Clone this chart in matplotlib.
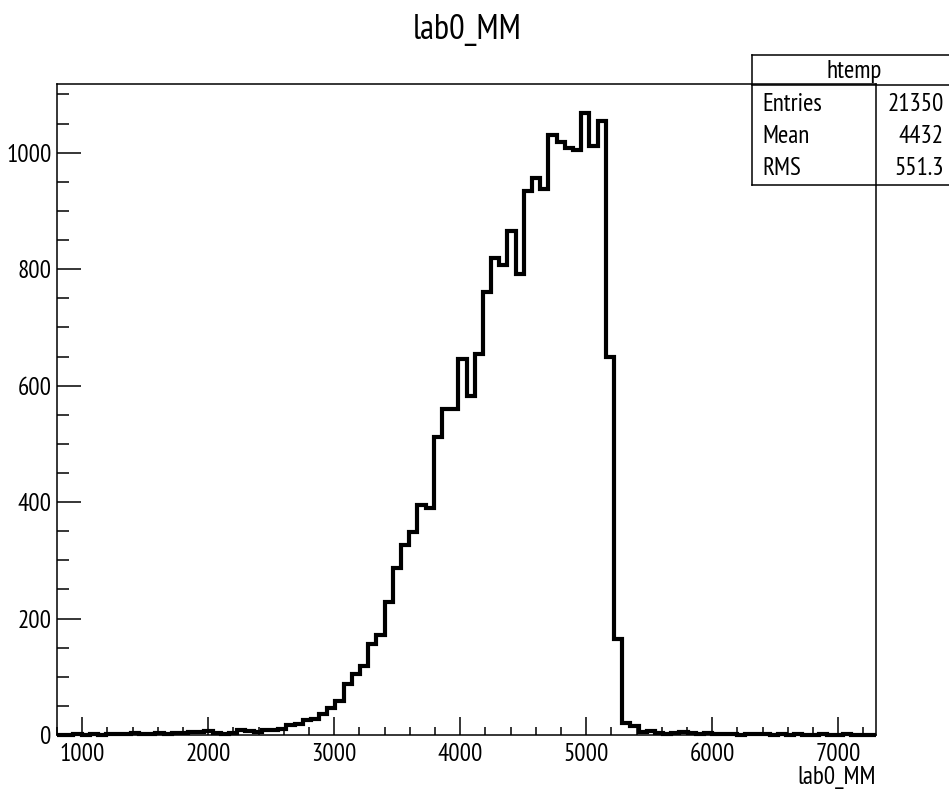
import numpy as np
import matplotlib
matplotlib.use('Agg')
import matplotlib.pyplot as plt
from matplotlib.ticker import MultipleLocator

# ROOT draws in a narrow Helvetica; PT Sans Narrow is the closest installed
plt.rcParams['font.family'] = ['PT Sans Narrow', 'Roboto Condensed', 'Liberation Sans', 'DejaVu Sans']

# --- histogram data (100 bins, 800 .. 7300) ---
x_lo = 800.0
x_hi = 7300.0
n_bins = 100
counts = [
    0, 0, 1, 0, 1, 0, 1, 2, 1, 3,
    2, 1, 3, 2, 4, 3, 5, 6, 7, 4,
    1, 3, 8, 7, 6, 9, 9, 10, 18, 19,
    26, 27, 36, 46, 59, 88, 105, 118, 156, 172,
    229, 287, 326, 348, 395, 390, 512, 560, 560, 645,
    583, 655, 760, 819, 808, 865, 791, 934, 957, 937,
    1031, 1019, 1008, 1005, 1068, 1011, 1055, 650, 165, 20,
    16, 6, 7, 3, 2, 4, 5, 4, 1, 3,
    2, 1, 1, 0, 1, 2, 1, 0, 1, 0,
    1, 0, 0, 1, 0, 0, 1, 0, 0, 0,
]
edges = np.linspace(x_lo, x_hi, n_bins + 1)

hist_name = 'htemp'
var_name = 'lab0_MM'
stats_labels = ['Entries', 'Mean', 'RMS']
stats_values = ['21350', '4432', '551.3']

fig = plt.figure(figsize=(9.49, 7.94), dpi=100)
ax = fig.add_axes([0.0601, 0.0743, 0.8630, 0.8199])

ax.stairs(counts, edges, color='black', linewidth=3.0, clip_on=False)

ax.set_xlim(x_lo, x_hi)
ax.set_ylim(0, 1118)

for s in ax.spines.values():
    s.set_linewidth(1.1)

ax.xaxis.set_major_locator(MultipleLocator(1000))
ax.xaxis.set_minor_locator(MultipleLocator(200))
ax.yaxis.set_major_locator(MultipleLocator(200))
ax.yaxis.set_minor_locator(MultipleLocator(50))
ax.tick_params(which='both', direction='in', top=False, right=False, width=1.1,
               labelsize=18)
ax.tick_params(axis='x', which='major', length=13, pad=6)
ax.tick_params(axis='x', which='minor', length=6)
ax.tick_params(axis='y', which='major', length=17, pad=4)
ax.tick_params(axis='y', which='minor', length=8.5)

# title and x label
fig.text(0.492, 0.962, var_name, ha='center', va='center', fontsize=25)
fig.text(0.9231, 0.0214, var_name, ha='right', va='center', fontsize=18)

# stats box (runs off the right edge like the original)
bx0, by_top, by_sep, by_bot = 0.7924, 0.9307, 0.8930, 0.7670
lw = 1.1
fig.add_artist(plt.Line2D([bx0, 1.0], [by_top, by_top], color='black', lw=lw))
fig.add_artist(plt.Line2D([bx0, 1.0], [by_sep, by_sep], color='black', lw=lw))
fig.add_artist(plt.Line2D([bx0, 1.0], [by_bot, by_bot], color='black', lw=lw))
fig.add_artist(plt.Line2D([bx0, bx0], [by_bot, by_top], color='black', lw=lw))

fig.text(0.900, 0.9097, hist_name, ha='center', va='center', fontsize=18)
row_y = [0.8678, 0.8279, 0.7884]
for lab, val, yy in zip(stats_labels, stats_values, row_y):
    fig.text(0.8036, yy, lab, ha='left', va='center', fontsize=18)
    fig.text(0.9947, yy, val, ha='right', va='center', fontsize=18)

fig.savefig('out.png', dpi=100)
